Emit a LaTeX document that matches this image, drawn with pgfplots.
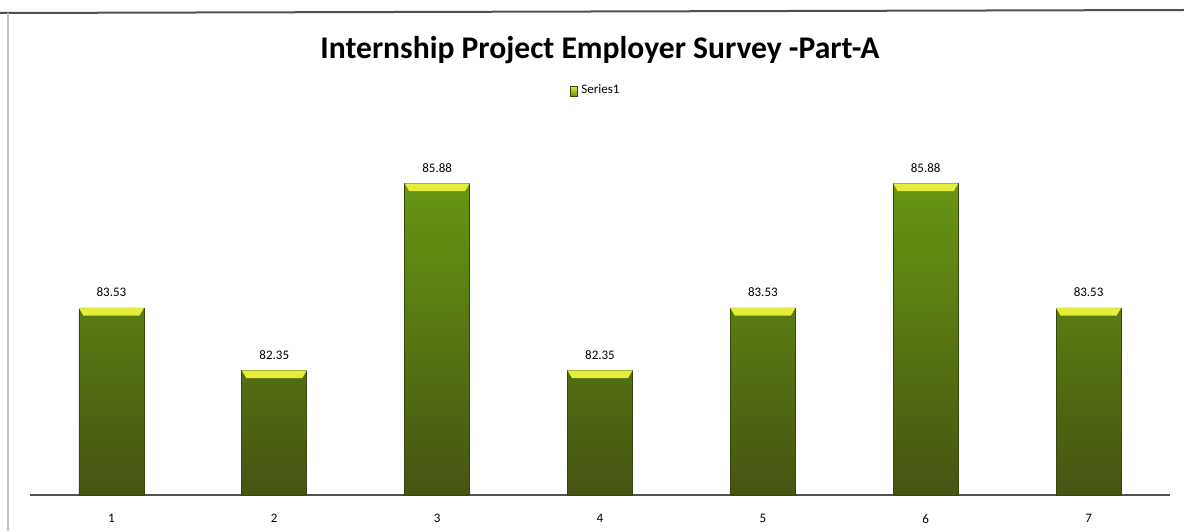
\documentclass[border=0pt]{standalone}
\usepackage{fontspec}
\setmainfont{Carlito}
\usepackage{pgfplots}
\pgfplotsset{compat=1.18}

\definecolor{barTop}{RGB}{104,150,18}
\definecolor{barBottom}{RGB}{70,84,18}
\definecolor{barEdge}{RGB}{55,70,12}
\definecolor{capYellow}{RGB}{228,236,60}
\definecolor{frameGray}{RGB}{80,80,80}

% yellow bevel on top of each bar
\pgfdeclareplotmark{barcap}{%
  \pgfpathmoveto{\pgfqpoint{-16.25pt}{0pt}}%
  \pgfpathlineto{\pgfqpoint{16.25pt}{0pt}}%
  \pgfpathlineto{\pgfqpoint{14pt}{-3.8pt}}%
  \pgfpathlineto{\pgfqpoint{-14pt}{-3.8pt}}%
  \pgfpathclose
  \pgfusepathqfill
}

\begin{document}
\begin{tikzpicture}
\useasboundingbox (0,0) rectangle (592pt,265.5pt);
\begin{axis}[
    at={(15pt,18pt)}, anchor=south west,
    scale only axis,
    width=570pt, height=177.5pt,
    xmin=0.5, xmax=7.5,
    ymin=80, ymax=86.7,
    axis x line=bottom, axis y line=none,
    x axis line style={-, draw=frameGray, line width=0.8pt},
    xtick={1,2,3,4,5,6,7},
    xtick style={draw=none},
    /pgf/number format/assume math mode=true,
    tick label style={font=\fontsize{6.5}{7}\selectfont, yshift=-4pt},
    title={Internship Project Employer Survey -Part-A},
    title style={at={(0.5,1.22)}, anchor=center, font=\bfseries\fontsize{15.8}{18}\selectfont},
    legend style={at={(0.497,1.138)}, anchor=center, draw=none, fill=none,
        font=\fontsize{6.5}{7}\selectfont, inner sep=1pt},
    legend image code/.code={\fill[top color=capYellow, bottom color=barTop] (0pt,-2.5pt) rectangle (3.5pt,2.5pt);},
]
\addplot[ybar, bar width=32.5pt, bar shift=0pt, draw=barEdge, line width=0.4pt,
    top color=barTop, bottom color=barBottom,
    nodes near coords,
    nodes near coords style={font=\fontsize{6.5}{7}\selectfont, yshift=2pt,
        /pgf/number format/fixed, /pgf/number format/precision=2,
        /pgf/number format/fixed zerofill},
] coordinates {
    (1,83.53) (2,82.35) (3,85.88) (4,82.35) (5,83.53) (6,85.88) (7,83.53)
};
\addlegendentry{Series1}
\addplot[only marks, mark=barcap, mark options={fill=capYellow, draw=none}, forget plot]
coordinates {
    (1,83.53) (2,82.35) (3,85.88) (4,82.35) (5,83.53) (6,85.88) (7,83.53)
};
\end{axis}
\draw[frameGray, line width=1pt] (0pt,259pt) -- (592pt,260.5pt);
\draw[black!25, line width=0.6pt] (4pt,259pt) -- (4pt,0pt);
\end{tikzpicture}
\end{document}
